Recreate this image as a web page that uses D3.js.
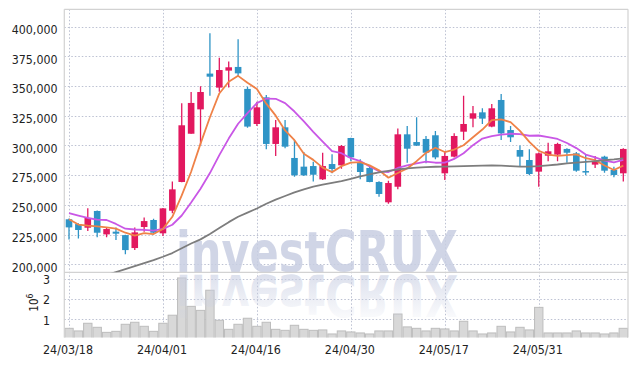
<!DOCTYPE html>
<html><head><meta charset="utf-8">
<script src="https://cdn.jsdelivr.net/npm/d3@7"></script>
<style>
html,body{margin:0;padding:0;background:#fff;}
svg{display:block;}
.lbl{font-family:'DejaVu Sans Condensed','DejaVu Sans',sans-serif;font-stretch:condensed;fill:#222;}
</style></head><body>
<svg id="chart" width="637" height="366" xmlns:xlink="http://www.w3.org/1999/xlink"></svg>
<script>
// ---------- data ----------
const dates = [
 "24/03/18","24/03/19","24/03/20","24/03/21","24/03/22","24/03/25","24/03/26","24/03/27","24/03/28","24/03/29",
 "24/04/01","24/04/02","24/04/03","24/04/04","24/04/05","24/04/08","24/04/09","24/04/11","24/04/12","24/04/15",
 "24/04/16","24/04/17","24/04/18","24/04/19","24/04/22","24/04/23","24/04/24","24/04/25","24/04/26","24/04/29",
 "24/04/30","24/05/02","24/05/03","24/05/07","24/05/08","24/05/09","24/05/10","24/05/13","24/05/14","24/05/16",
 "24/05/17","24/05/20","24/05/21","24/05/22","24/05/23","24/05/24","24/05/27","24/05/28","24/05/29","24/05/30",
 "24/05/31","24/06/03","24/06/04","24/06/05","24/06/07","24/06/10","24/06/11","24/06/12","24/06/13","24/06/14"];
const opens = [237900,233900,230800,244900,225200,227500,224600,213700,231400,237300,
 226100,245100,269300,309900,330400,360500,348700,363000,366100,347600,
 318100,340500,301300,315300,289500,282200,282700,271500,284400,283300,
 306300,285500,281100,269300,252200,265300,309400,302900,305500,308600,
 276600,290600,311600,322600,327900,315900,338300,313000,296200,287800,
 278000,291400,292300,297100,293400,278500,283900,290600,279400,276600];
const highs = [238500,234500,247100,245200,230500,231100,225000,231100,239500,238400,
 247500,269600,335500,345000,349800,394400,373900,370600,389400,349500,
 336900,342500,321500,321500,304600,294500,286400,293900,292600,300400,
 306500,288400,283000,270000,270400,314200,316400,323700,308000,312200,
 294800,310200,341900,333200,331300,334900,343300,316400,300100,296800,
 294000,302400,302400,297600,294500,292800,291200,291400,282200,297600];
const lows = [221000,221800,228000,222700,222700,220400,208400,212000,227500,226000,
 223800,242900,269000,309900,300400,341900,345300,348700,358500,315000,
 316400,296800,291200,297600,273800,274300,269800,270900,276600,280500,
 286700,271500,269000,256900,251000,263100,285500,299500,285000,288400,
 270900,290000,304600,315300,318100,315300,304600,302900,282200,274900,
 265300,286700,286700,285500,278000,274900,281100,277100,273200,269800];
const closes = [231100,228900,239000,226600,229700,225800,212000,226900,236400,226600,
 247100,263100,317000,335800,345000,357900,363500,365800,360700,315900,
 332100,301300,315300,299000,274900,274900,275400,282700,280200,299600,
 290000,277700,269300,259200,268400,309400,297300,299900,293900,290000,
 291200,308000,318100,327100,322600,331300,310200,306900,290600,276000,
 293400,295100,301300,293900,278800,277400,286900,278800,275200,297100];
const volumes = [560000,430000,810000,610000,360000,410000,760000,860000,660000,410000,
 810000,1210000,3060000,1650000,1450000,2450000,960000,510000,760000,1060000,
 660000,860000,510000,460000,710000,510000,460000,480000,280000,430000,
 380000,330000,280000,430000,430000,1270000,630000,560000,430000,560000,
 530000,430000,910000,430000,280000,330000,660000,380000,610000,480000,
 1600000,330000,330000,330000,430000,330000,330000,280000,330000,560000];
const ma5 = [238000,233500,232500,232000,231100,230000,226600,224200,226200,225500,
 229800,240000,258000,277900,301600,323800,343800,353600,358600,352800,
 347600,335200,325100,312700,304500,293100,287900,281400,277600,282600,
 285600,286000,283300,279100,272900,276800,280700,286800,293800,298100,
 294500,296600,300200,306900,313400,321400,321900,319600,312300,303000,
 295400,292400,291300,291900,292500,289300,287700,283200,279400,283100];
const ma10 = [243000,241000,239000,237600,237300,234000,230000,229300,229000,228300,
 229900,233300,241100,252000,263600,276800,291900,305800,318300,327200,
 335700,339500,339300,335700,328600,320300,311500,303200,295200,293500,
 289300,286900,282300,278300,277700,281100,283300,285000,286400,285500,
 285600,288700,293500,300300,305800,307900,309200,309900,309600,308200,
 308400,307100,305500,302100,297800,292400,290000,287200,285700,287800];
const ma60 = [181000,183500,186000,188500,191000,193500,196000,198500,201000,203500,
 206400,209500,213500,217500,221000,225500,230500,235500,240000,243500,
 247000,251000,254500,257500,260500,263000,265300,267000,268500,270000,
 272000,274000,275800,277300,278600,279800,280700,281300,281800,282100,
 282300,282500,282700,282900,283000,283200,283000,282600,282300,282300,
 282600,283300,284000,284900,285600,286300,286900,287600,288300,289200];
const priceTicks = [200000,225000,250000,275000,300000,325000,350000,375000,400000];
const volumeTicks = [1000000,2000000,3000000];
const dateTicks = ["24/03/18","24/04/01","24/04/16","24/04/30","24/05/17","24/05/31"];
const watermark = "investCRUX";

// ---------- layout ----------
const L = 64.3, R = 628, T = 9.3, SEP = 272.3, VB = 337.5;
const svg = d3.select('#chart');
const defs = svg.append('defs');
defs.append('clipPath').attr('id','cm').append('rect').attr('x',L).attr('y',T).attr('width',R-L).attr('height',SEP-T);
defs.append('clipPath').attr('id','cv').append('rect').attr('x',L).attr('y',SEP).attr('width',R-L).attr('height',VB-SEP);
const grad = defs.append('linearGradient').attr('id','fade').attr('gradientUnits','userSpaceOnUse')
  .attr('x1',0).attr('x2',0).attr('y1',231).attr('y2',272);
grad.append('stop').attr('offset',0).attr('stop-color','#c8cee2').attr('stop-opacity',0.12);
grad.append('stop').attr('offset',1).attr('stop-color','#c8cee2').attr('stop-opacity',0.62);

const idx = d3.range(dates.length);
const x = d3.scaleBand().domain(dates).range([L,R]).padding(0);
const bw = x.bandwidth();
const cx = i => x(dates[i]) + bw/2;
const y = d3.scaleLinear().domain([193300,414600]).range([SEP,T]);
const yv = d3.scaleLinear().domain([0,3340000]).range([339.6,SEP]);

// grid
const grid = svg.append('g').attr('stroke','#bcc1d2').attr('stroke-width',1).attr('stroke-dasharray','1.5,2');
grid.selectAll('.hg').data(priceTicks).join('line').attr('x1',L).attr('x2',R)
  .attr('y1',d=>Math.round(y(d))+0.5).attr('y2',d=>Math.round(y(d))+0.5);
grid.selectAll('.vg').data(volumeTicks).join('line').attr('class','vg').attr('x1',L).attr('x2',R)
  .attr('y1',d=>Math.round(yv(d))+0.5).attr('y2',d=>Math.round(yv(d))+0.5);
grid.selectAll('.xg').data(dateTicks).join('line').attr('class','xg')
  .attr('x1',d=>Math.round(x(d)+bw/2)+0.5).attr('x2',d=>Math.round(x(d)+bw/2)+0.5).attr('y1',T).attr('y2',VB);

// volume bars
svg.append('g').attr('clip-path','url(#cv)').selectAll('rect').data(idx).join('rect')
  .attr('x',i=>x(dates[i])+0.5).attr('width',bw-1)
  .attr('y',i=>yv(volumes[i])).attr('height',i=>yv(0)-yv(volumes[i]))
  .attr('fill','#d8d8d8').attr('stroke','#bdbdbd').attr('stroke-width',1);

// watermark + reflection (reflection is a <use> clone of the same text)
const wm = svg.append('g').attr('fill','#c8cee2').attr('fill-opacity',0.85);
wm.append('text').attr('id','wm').attr('x',176).attr('y',272).text(watermark)
  .attr('font-family','DejaVu Sans, sans-serif').attr('font-weight','bold').attr('font-size',57)
  .attr('textLength',282).attr('lengthAdjust','spacingAndGlyphs');
svg.append('use').attr('href','#wm').attr('xlink:href','#wm')
  .attr('transform','translate(0,547) scale(1,-1)')
  .attr('fill','url(#fade)');

// frame
const fr = svg.append('g').attr('stroke','#d2d2d2').attr('stroke-width',1.2).attr('fill','none');
fr.append('line').attr('x1',L).attr('x2',R).attr('y1',T).attr('y2',T);
fr.append('line').attr('x1',L).attr('x2',L).attr('y1',T).attr('y2',VB);
fr.append('line').attr('x1',R).attr('x2',R).attr('y1',T).attr('y2',VB);
fr.append('line').attr('x1',L).attr('x2',R).attr('y1',SEP).attr('y2',SEP);

// candles
const UP = '#e2185f', DOWN = '#2f94c6';
const cg = svg.append('g').attr('clip-path','url(#cm)');
const c = cg.selectAll('g').data(idx).join('g');
c.append('line').attr('x1',cx).attr('x2',cx).attr('y1',i=>y(highs[i])).attr('y2',i=>y(lows[i]))
  .attr('stroke',i=>closes[i]>=opens[i]?UP:DOWN).attr('stroke-width',1.3);
c.append('rect').attr('x',i=>cx(i)-3.3).attr('width',6.6)
  .attr('y',i=>y(Math.max(opens[i],closes[i])))
  .attr('height',i=>Math.max(1.5,Math.abs(y(opens[i])-y(closes[i]))))
  .attr('fill',i=>closes[i]>=opens[i]?UP:DOWN);

// moving averages
const line = arr => d3.line().x(i=>cx(i)).y(i=>y(arr[i]))(idx);
const lg = svg.append('g').attr('clip-path','url(#cm)').attr('fill','none').attr('stroke-width',1.8).attr('stroke-linejoin','round');
lg.append('path').attr('d',line(ma10)).attr('stroke','#c957e6');
lg.append('path').attr('d',line(ma5)).attr('stroke','#ef8248');
lg.append('path').attr('d',line(ma60)).attr('stroke','#7d7d7d');

// axes
const ay = svg.append('g').attr('transform',`translate(${L},0)`)
  .call(d3.axisLeft(y).tickValues(priceTicks).tickFormat(d3.format(',')).tickSize(0).tickPadding(6.8));
ay.select('.domain').remove();
ay.selectAll('text').attr('class','lbl').attr('dy','0.55em').attr('font-size',12.3).attr('fill','#222');

const av = svg.append('g').attr('transform',`translate(${L},0)`)
  .call(d3.axisLeft(yv).tickValues(volumeTicks).tickFormat(d=>d/1e6).tickSize(0).tickPadding(14.3));
av.select('.domain').remove();
av.selectAll('text').attr('class','lbl').attr('dy','0.37em').attr('font-size',12.3).attr('fill','#222');

const ax = svg.append('g').attr('transform',`translate(-1,${VB})`)
  .call(d3.axisBottom(x).tickValues(dateTicks).tickSize(0).tickPadding(8));
ax.select('.domain').remove();
ax.selectAll('text').attr('class','lbl').attr('font-size',12.4).attr('fill','#222');

// 10^6 unit label
const u = svg.append('text').attr('class','lbl').attr('font-size',11.5)
  .attr('transform','translate(38.3,311.7) rotate(-90)');
u.append('tspan').text('10');
u.append('tspan').attr('dy',-5).attr('font-size',8.5).text('6');
</script>
</body></html>
